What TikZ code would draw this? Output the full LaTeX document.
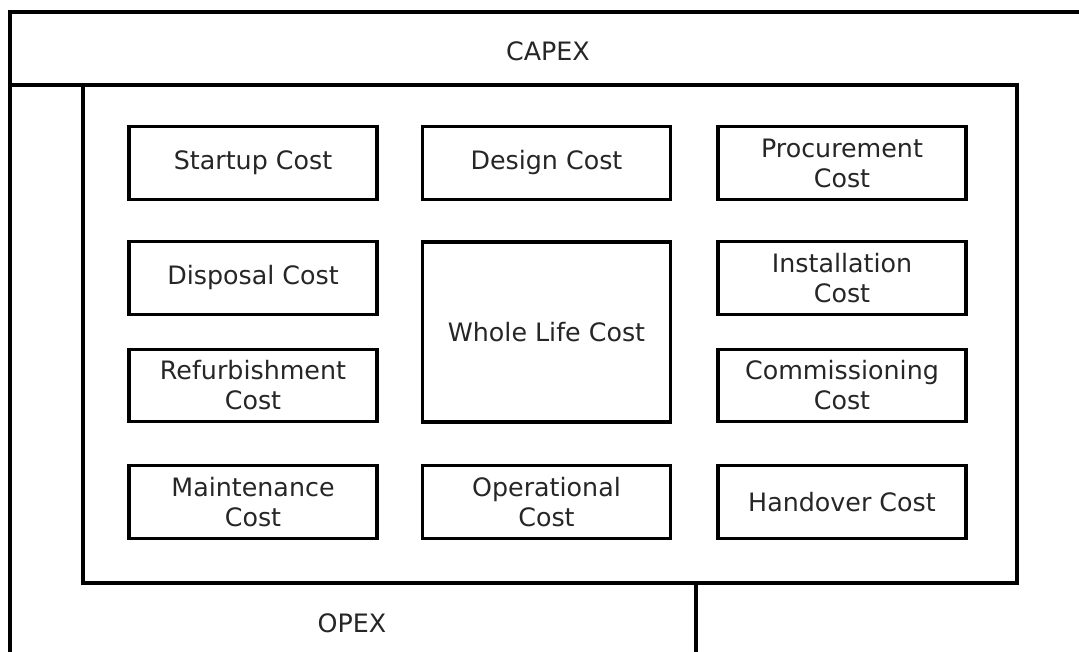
\documentclass[tikz,border=0pt]{standalone}
\usepackage{fontspec}
\setmainfont{DejaVu Sans}

\tikzset{
    cost/.style={draw, line width=2.3pt, align=center, inner sep=0pt,
        minimum width=186pt, minimum height=54.5pt, text=black!85,
        font=\fontsize{19}{22.5}\selectfont},
    area/.style={text=black!85, font=\fontsize{19}{22.5}\selectfont}
}

\begin{document}
\begin{tikzpicture}[x=0.75pt, y=-0.75pt]
        \useasboundingbox (0, 0) rectangle (1079, 652);

        % CAPEX / OPEX frame around the cost items
        \draw [line width=2.5pt] (1079, 12) -- (10, 12) -- (10, 652);
        \draw [line width=2.5pt] (10, 85) -- (83, 85);
        \draw [line width=2.5pt] (83, 85) rectangle (1017, 583);
        \draw [line width=2.5pt] (696, 583) -- (696, 652);

        \node [area] (capex) at (548, 51) {CAPEX};
        \node [area] (opex) at (352, 623) {OPEX};

        \node [cost] (startup) at (253, 163) {Startup Cost};
        \node [cost] (design) at (546.5, 163) {Design Cost};
        \node [cost] (procurement) at (842, 163) {Procurement\\Cost};

        \node [cost] (disposal) at (253, 278) {Disposal Cost};
        \node [cost, minimum height=135pt] (wholelife) at (546.5, 332) {Whole Life Cost};
        \node [cost] (installation) at (842, 278) {Installation\\Cost};

        \node [cost] (refurbishment) at (253, 385.5) {Refurbishment\\Cost};
        \node [cost] (commissioning) at (842, 385.5) {Commissioning\\Cost};

        \node [cost] (maintenance) at (253, 502) {Maintenance\\Cost};
        \node [cost] (operational) at (546.5, 502) {Operational\\Cost};
        \node [cost] (handover) at (842, 502) {Handover Cost};
    \end{tikzpicture}
\end{document}
